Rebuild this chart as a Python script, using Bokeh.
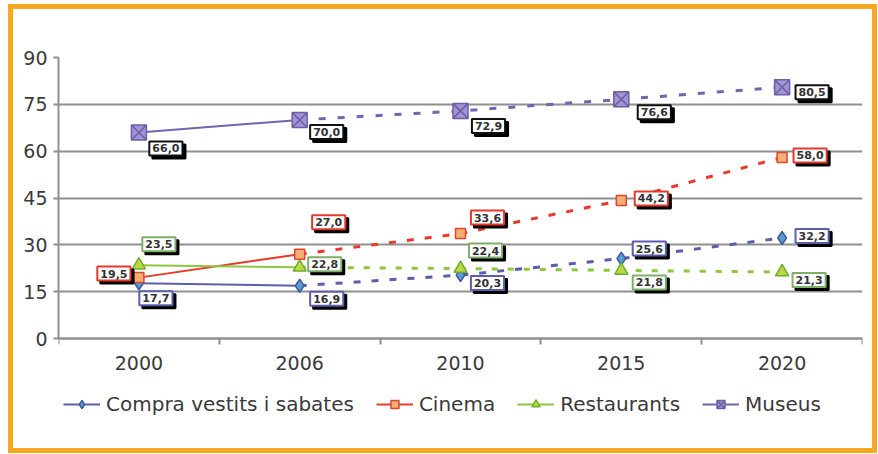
from bokeh.plotting import figure
from bokeh.models import Range1d, FixedTicker, Legend, LegendItem, ColumnDataSource
from bokeh.embed import file_html
from bokeh.resources import INLINE
from bokeh.core.properties import value

# ---- data ----
years = ["2000", "2006", "2010", "2015", "2020"]
compra = [17.7, 16.9, 20.3, 25.6, 32.2]
cinema = [19.5, 27.0, 33.6, 44.2, 58.0]
restaurants = [23.5, 22.8, 22.4, 21.8, 21.3]
museus = [66.0, 70.0, 72.9, 76.6, 80.5]
y_ticks = [0, 15, 30, 45, 60, 75, 90]
names = ["Compra vestits i sabates", "Cinema", "Restaurants", "Museus"]

# ---- label placement (screen pixel offsets, +x right, +y down) ----
compra_dx = [17, 27, 27, 28, 30]
compra_dy = [15, 13, 8, -10, -2]
cinema_dx = [-25, 29, 27, 30, 28]
cinema_dy = [-4, -32, -16, -2, -2]
rest_dx = [20, 25, 25, 28, 27]
rest_dy = [-21, -3, -18, 12, 8]
museus_dx = [27, 27, 28, 33, 30]
museus_dy = [16, 12, 15, 13, 5]

FONT = "DejaVu Sans"
TXT = "#3a3a3a"
GRID = "#8f8f8f"
ORANGE = "#F6A91E"
W, H = 878, 454

# pixel layout: frame top, y=0 line, frame bottom (legend lives inside frame, under the axis)
TOP, ZERO, BOTTOM = 57, 338, 420
y_lo, y_hi = y_ticks[0], y_ticks[-1]
ppu = (ZERO - TOP) / (y_hi - y_lo)
y_start = y_lo - (BOTTOM - ZERO) / ppu

xs = list(range(len(years)))

series = [
    dict(name=names[0], vals=compra, dx=compra_dx, dy=compra_dy, color="#5a5eab",
         marker="diamond", size=13, fill="#5b9bd5", mline="#3d5a9e", border="#5a5eab",
         dash="7 11"),
    dict(name=names[1], vals=cinema, dx=cinema_dx, dy=cinema_dy, color="#e8392b",
         marker="square", size=10, fill="#f6ae74", mline="#e0452f", border="#e2392c",
         dash="7 11"),
    dict(name=names[2], vals=restaurants, dx=rest_dx, dy=rest_dy, color="#8dc63f",
         marker="triangle", size=13, fill="#bcd842", mline="#6dae2e", border="#7fae6a",
         dash="6 10"),
    dict(name=names[3], vals=museus, dx=museus_dx, dy=museus_dy, color="#6e66b0",
         marker="square_x", size=15, fill="#a493d2", mline="#6a5ea8", border="#111111",
         dash="7 12"),
]

p = figure(width=W, height=H,
           x_range=Range1d(-0.5, len(years) - 0.5), y_range=Range1d(y_start, y_hi),
           output_backend="svg", toolbar_location=None,
           min_border_left=58, min_border_right=16, min_border_top=TOP,
           min_border_bottom=H - BOTTOM)
p.outline_line_color = None
p.background_fill_color = "white"
p.border_fill_alpha = 0
# orange frame around the whole chart, painted behind the transparent canvas border
g = f"linear-gradient({ORANGE},{ORANGE})"
p.styles = {
    "background": (f"{g} 8px 4px / 5px 449px no-repeat, "
                   f"{g} 872px 4px / 5px 449px no-repeat, "
                   f"{g} 8px 4px / 869px 5px no-repeat, "
                   f"{g} 8px 448px / 869px 5px no-repeat, white"),
}

# grid
p.xgrid.grid_line_color = None
p.ygrid.ticker = FixedTicker(ticks=y_ticks)
p.ygrid.grid_line_color = GRID
p.ygrid.grid_line_width = 2

# y axis
p.yaxis.ticker = FixedTicker(ticks=y_ticks)
p.yaxis.bounds = (y_lo, y_hi)
p.yaxis.axis_line_color = GRID
p.yaxis.axis_line_width = 2
p.yaxis.major_tick_line_color = GRID
p.yaxis.major_tick_line_width = 2
p.yaxis.major_tick_out = 5
p.yaxis.major_tick_in = 0
p.yaxis.minor_tick_line_color = None
p.yaxis.major_label_standoff = 6
p.yaxis.major_label_text_font = FONT
p.yaxis.major_label_text_font_size = "19px"
p.yaxis.major_label_text_color = TXT

# x axis (drawn at y = 0)
p.xaxis.fixed_location = y_lo
p.xaxis.ticker = FixedTicker(ticks=xs, minor_ticks=[i - 0.5 for i in range(len(years) + 1)])
p.xaxis.major_label_overrides = {i: y for i, y in zip(xs, years)}
p.xaxis.major_tick_line_color = None
p.xaxis.major_tick_out = 0
p.xaxis.major_tick_in = 0
p.xaxis.minor_tick_line_color = GRID
p.xaxis.minor_tick_line_width = 2
p.xaxis.minor_tick_out = 6
p.xaxis.minor_tick_in = 0
p.xaxis.axis_line_color = GRID
p.xaxis.axis_line_width = 2
p.xaxis.major_label_standoff = 11
p.xaxis.major_label_text_font = FONT
p.xaxis.major_label_text_font_size = "19px"
p.xaxis.major_label_text_color = TXT

legend_items = []
solid_rs = []
# lines
for s in series:
    r_solid = p.line(xs[:2], s["vals"][:2], line_color=s["color"], line_width=2)
    p.line(xs[1:], s["vals"][1:], line_color=s["color"], line_width=3, line_dash=s["dash"])
    solid_rs.append(r_solid)

# markers
for s, r_solid in zip(series, solid_rs):
    r_m = p.scatter(xs, s["vals"], marker=s["marker"], size=s["size"],
                    fill_color=s["fill"], line_color=s["mline"], line_width=1.5)
    legend_items.append(LegendItem(label=s["name"], renderers=[r_solid, r_m]))

# data labels
for s in series:
    src = ColumnDataSource(dict(
        x=xs, y=s["vals"],
        t=[f"{v:.1f}".replace(".", ",") for v in s["vals"]],
        dx=s["dx"], dy=s["dy"],
        sdx=[d + 3 for d in s["dx"]], sdy=[d + 3 for d in s["dy"]],
    ))
    p.text(x="x", y="y", text="t", x_offset="sdx", y_offset="sdy", source=src,
           text_font=value(FONT), text_font_style="bold", text_font_size="11px",
           text_color="black", text_align="center", text_baseline="middle",
           background_fill_color="black", border_line_color="black",
           border_line_width=2, padding=3)
    p.text(x="x", y="y", text="t", x_offset="dx", y_offset="dy", source=src,
           text_font=value(FONT), text_font_style="bold", text_font_size="11px",
           text_color="#333333", text_align="center", text_baseline="middle",
           background_fill_color="white", border_line_color=s["border"],
           border_line_width=2, padding=3)

legend = Legend(items=legend_items, orientation="horizontal", location=(5, 4),
                padding=0, margin=0, spacing=22, glyph_width=37, glyph_height=20,
                label_standoff=6, label_text_font=FONT, label_text_font_size="20px",
                label_text_color=TXT, border_line_color=None, background_fill_alpha=0)
p.add_layout(legend)

open("out.html", "w").write(file_html(p, INLINE))
